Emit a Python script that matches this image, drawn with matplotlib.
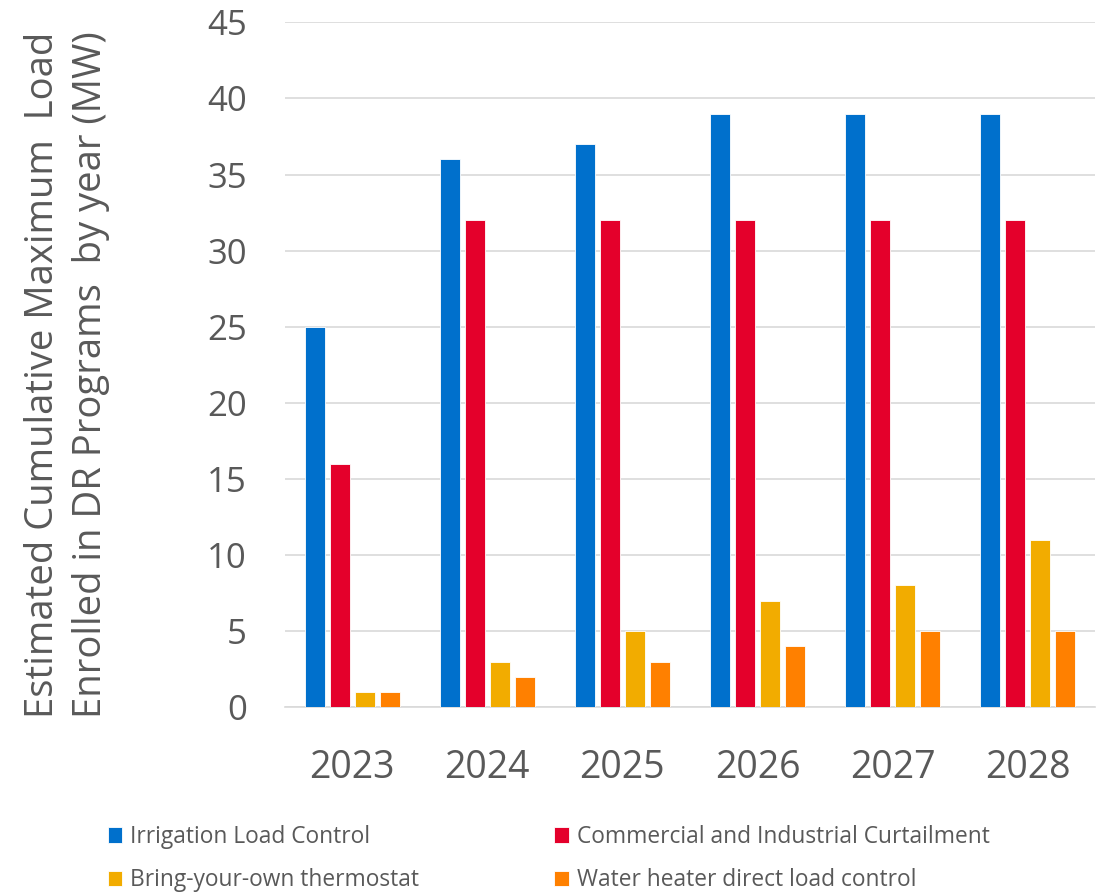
import numpy as np
import matplotlib

matplotlib.use("Agg")
import matplotlib.pyplot as plt

years = ["2023", "2024", "2025", "2026", "2027", "2028"]
irrigation = [25, 36, 37, 39, 39, 39]
commercial = [16, 32, 32, 32, 32, 32]
thermostat = [1, 3, 5, 7, 8, 11]
water_heater = [1, 2, 3, 4, 5, 5]

series = [
    ("Irrigation Load Control", irrigation, "#0070CC"),
    ("Commercial and Industrial Curtailment", commercial, "#E4002B"),
    ("Bring-your-own thermostat", thermostat, "#F2AC00"),
    ("Water heater direct load control", water_heater, "#FF8000"),
]

plt.rcParams["font.family"] = ["Open Sans", "DejaVu Sans"]
text_color = "#595959"

fig = plt.figure(figsize=(11.03, 8.94), dpi=100)
ax = fig.add_axes([0.258, 0.209, 0.735, 0.766])

x = np.arange(len(years))
width = 0.148
step = 0.185
for i, (name, vals, color) in enumerate(series):
    ax.bar(x + (i - 1.5) * step, vals, width=width, color=color,
           edgecolor="white", linewidth=0.6, label=name, zorder=3)

ax.set_ylim(0, 45)
ax.set_yticks(range(0, 46, 5))
ax.set_xlim(-0.5, len(years) - 0.5)
ax.set_xticks(x)
ax.set_xticklabels(years)
ax.yaxis.grid(True, color="#D9D9D9", linewidth=1.2, zorder=0)
ax.set_axisbelow(True)
for side in ["top", "right", "left"]:
    ax.spines[side].set_visible(False)
ax.spines["bottom"].set_color("#D9D9D9")
ax.spines["bottom"].set_linewidth(1.2)
ax.tick_params(axis="both", length=0, colors=text_color)
ax.tick_params(axis="y", labelsize=25, pad=27)
ax.tick_params(axis="x", labelsize=27, pad=30)

ax.set_ylabel("Estimated Cumulative Maximum  Load\nEnrolled in DR Programs  by year (MW)",
              fontsize=27.5, color=text_color, linespacing=1.35)
ax.yaxis.set_label_coords(-0.215, 0.485)

# legend laid out row by row: two entries per row
handles, labels = ax.get_legend_handles_labels()
order = [0, 2, 1, 3]
fig.legend([handles[k] for k in order], [labels[k] for k in order],
           loc="lower left", bbox_to_anchor=(0.079, -0.021),
           ncol=2, frameon=False, fontsize=16.4, labelcolor=text_color,
           handlelength=0.65, handleheight=0.65, handletextpad=0.35,
           columnspacing=5.9, labelspacing=0.85)

fig.savefig("out.png", dpi=100)
plt.close(fig)
